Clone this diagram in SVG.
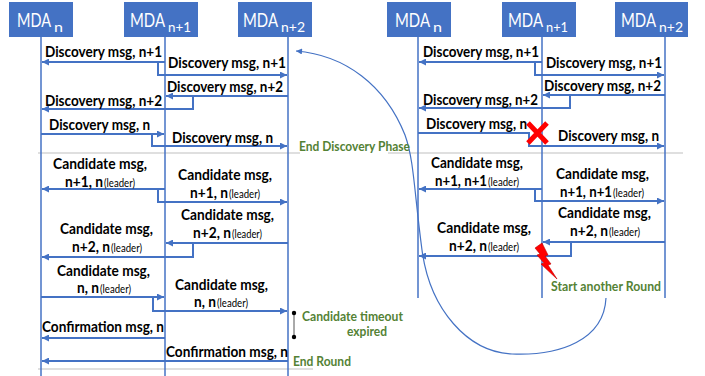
<svg xmlns="http://www.w3.org/2000/svg" width="705" height="376" viewBox="0 0 705 376">
<defs>
<style>
.box{fill:#4472C4}
.life{stroke:#4472C4;stroke-width:1.5;fill:none}
.msg{stroke:#4472C4;stroke-width:2;fill:none}
.sep{stroke:#BFBFBF;stroke-width:1;fill:none}
.mda{font-family:Lato,"Liberation Sans",sans-serif;font-size:19px;fill:#fff}
.sub{font-family:Lato,"Liberation Sans",sans-serif;font-size:12.5px;fill:#fff}
.lbl{font-family:Lato,"Liberation Sans",sans-serif;font-weight:700;font-size:14.5px;fill:#000}
.ld{font-family:Lato,"Liberation Sans",sans-serif;font-weight:400;font-size:10.5px;fill:#000}
.grn{font-family:Lato,"Liberation Sans",sans-serif;font-weight:700;font-size:13px;fill:#548235}
.curve{stroke:#4472C4;stroke-width:1.2;fill:none}
</style>
<marker id="ah" viewBox="0 0 10 10" refX="10" refY="5" markerWidth="8" markerHeight="7" markerUnits="userSpaceOnUse" orient="auto">
<path d="M0,0 L10,5 L0,10 z" fill="#4472C4"/>
</marker>
<marker id="ahs" viewBox="0 0 10 10" refX="10" refY="5" markerWidth="7" markerHeight="6" markerUnits="userSpaceOnUse" orient="auto">
<path d="M0,0 L10,5 L0,10 z" fill="#4472C4"/>
</marker>
</defs>
<rect width="705" height="376" fill="#fff"/>

<g id="separators">
<path class="sep" d="M38,153 H300 M388,153 H683"/>
<path class="sep" d="M38,369 H313"/>
</g>

<!-- left diagram nodes -->
<g id="L_MDAn">
<rect class="box" x="9" y="2" width="64" height="35"/>
<line class="life" x1="41" y1="37" x2="41" y2="376"/>
<text class="mda" x="17" y="27" textLength="34" lengthAdjust="spacingAndGlyphs">MDA</text>
<text class="sub" x="54" y="32" textLength="9" lengthAdjust="spacingAndGlyphs">n</text>
</g>
<g id="L_MDAn1">
<rect class="box" x="124" y="2" width="74" height="35"/>
<line class="life" x1="165" y1="37" x2="165" y2="376"/>
<text class="mda" x="130" y="27" textLength="35" lengthAdjust="spacingAndGlyphs">MDA</text>
<text class="sub" x="168" y="32" textLength="23" lengthAdjust="spacingAndGlyphs">n+1</text>
</g>
<g id="L_MDAn2">
<rect class="box" x="238" y="2" width="74" height="35"/>
<line class="life" x1="288" y1="37" x2="288" y2="376"/>
<text class="mda" x="243" y="27" textLength="35" lengthAdjust="spacingAndGlyphs">MDA</text>
<text class="sub" x="281" y="32" textLength="24" lengthAdjust="spacingAndGlyphs">n+2</text>
</g>

<!-- right diagram nodes -->
<g id="R_MDAn">
<rect class="box" x="387" y="2" width="64" height="35"/>
<line class="life" x1="418" y1="37" x2="418" y2="298"/>
<text class="mda" x="395" y="27" textLength="35" lengthAdjust="spacingAndGlyphs">MDA</text>
<text class="sub" x="433" y="32" textLength="9" lengthAdjust="spacingAndGlyphs">n</text>
</g>
<g id="R_MDAn1">
<rect class="box" x="502" y="2" width="74" height="35"/>
<line class="life" x1="542" y1="37" x2="542" y2="298"/>
<text class="mda" x="508" y="27" textLength="35" lengthAdjust="spacingAndGlyphs">MDA</text>
<text class="sub" x="546" y="32" textLength="22" lengthAdjust="spacingAndGlyphs">n+1</text>
</g>
<g id="R_MDAn2">
<rect class="box" x="615" y="2" width="73" height="35"/>
<line class="life" x1="665" y1="37" x2="665" y2="298"/>
<text class="mda" x="621" y="27" textLength="35" lengthAdjust="spacingAndGlyphs">MDA</text>
<text class="sub" x="659" y="32" textLength="24" lengthAdjust="spacingAndGlyphs">n+2</text>
</g>

<!-- connectors -->
<g id="connectors">
<path class="msg" marker-end="url(#ah)" d="M165,62 H42"/>
<path class="msg" marker-end="url(#ah)" d="M158,62 V75 H287"/>
<path class="msg" marker-end="url(#ah)" d="M288,96 H166"/>
<path class="msg" marker-end="url(#ah)" d="M193,96 V109 H42"/>
<path class="msg" marker-end="url(#ah)" d="M41,134 H164"/>
<path class="msg" marker-end="url(#ah)" d="M152,134 V146 H287"/>
<path class="msg" marker-end="url(#ah)" d="M165,189 H42"/>
<path class="msg" marker-end="url(#ah)" d="M158,189 V202 H287"/>
<path class="msg" marker-end="url(#ah)" d="M288,243 H166"/>
<path class="msg" marker-end="url(#ah)" d="M193,243 V257 H42"/>
<path class="msg" marker-end="url(#ah)" d="M41,297 H164"/>
<path class="msg" marker-end="url(#ah)" d="M153,297 V311 H287"/>
<path class="msg" marker-end="url(#ah)" d="M165,338 H42"/>
<path class="msg" marker-end="url(#ah)" d="M288,361 H42"/>

<path class="msg" marker-end="url(#ah)" d="M542,62 H419"/>
<path class="msg" marker-end="url(#ah)" d="M535,62 V75 H664"/>
<path class="msg" marker-end="url(#ah)" d="M665,95 H543"/>
<path class="msg" marker-end="url(#ah)" d="M570,95 V108 H419"/>
<path class="msg" marker-end="url(#ah)" d="M418,133 H529 V146 H664"/>
<path class="msg" marker-end="url(#ah)" d="M542,189 H419"/>
<path class="msg" marker-end="url(#ah)" d="M535,189 V201 H664"/>
<path class="msg" marker-end="url(#ah)" d="M665,242 H543"/>
<path class="msg" marker-end="url(#ah)" d="M571,242 V256 H419"/>

<path class="curve" marker-end="url(#ahs)" d="M606,298 C604,340 560,356 512,354 C468,352 430,310 422,250 C414,190 414,160 405,135 C385,85 345,55 296,51"/>
</g>

<!-- message labels -->
<g id="labels">
<text class="lbl" x="103.5" y="57" text-anchor="middle" textLength="117" lengthAdjust="spacingAndGlyphs">Discovery msg, n+1</text>
<text class="lbl" x="227" y="68" text-anchor="middle" textLength="118" lengthAdjust="spacingAndGlyphs">Discovery msg, n+1</text>
<text class="lbl" x="225" y="92" text-anchor="middle" textLength="116" lengthAdjust="spacingAndGlyphs">Discovery msg, n+2</text>
<text class="lbl" x="103.5" y="106" text-anchor="middle" textLength="117" lengthAdjust="spacingAndGlyphs">Discovery msg, n+2</text>
<text class="lbl" x="99.5" y="130" text-anchor="middle" textLength="101" lengthAdjust="spacingAndGlyphs">Discovery msg, n</text>
<text class="lbl" x="222.5" y="143" text-anchor="middle" textLength="101" lengthAdjust="spacingAndGlyphs">Discovery msg, n</text>

<text class="lbl" x="100" y="169" text-anchor="middle" textLength="94" lengthAdjust="spacingAndGlyphs">Candidate msg,</text>
<text class="lbl" x="65" y="187" textLength="38" lengthAdjust="spacingAndGlyphs">n+1, n</text>
<text class="ld" x="104" y="187" textLength="31" lengthAdjust="spacingAndGlyphs">(leader)</text>
<text class="lbl" x="225" y="180" text-anchor="middle" textLength="94" lengthAdjust="spacingAndGlyphs">Candidate msg,</text>
<text class="lbl" x="190" y="198" textLength="38" lengthAdjust="spacingAndGlyphs">n+1, n</text>
<text class="ld" x="229" y="198" textLength="31" lengthAdjust="spacingAndGlyphs">(leader)</text>
<text class="lbl" x="227.5" y="220" text-anchor="middle" textLength="93" lengthAdjust="spacingAndGlyphs">Candidate msg,</text>
<text class="lbl" x="193" y="238" textLength="38" lengthAdjust="spacingAndGlyphs">n+2, n</text>
<text class="ld" x="232" y="238" textLength="30" lengthAdjust="spacingAndGlyphs">(leader)</text>
<text class="lbl" x="106.5" y="234" text-anchor="middle" textLength="93" lengthAdjust="spacingAndGlyphs">Candidate msg,</text>
<text class="lbl" x="72" y="252" textLength="38" lengthAdjust="spacingAndGlyphs">n+2, n</text>
<text class="ld" x="111" y="252" textLength="31" lengthAdjust="spacingAndGlyphs">(leader)</text>
<text class="lbl" x="103.5" y="276" text-anchor="middle" textLength="93" lengthAdjust="spacingAndGlyphs">Candidate msg,</text>
<text class="lbl" x="77" y="293" textLength="22" lengthAdjust="spacingAndGlyphs">n, n</text>
<text class="ld" x="100" y="293" textLength="31" lengthAdjust="spacingAndGlyphs">(leader)</text>
<text class="lbl" x="221.5" y="290" text-anchor="middle" textLength="93" lengthAdjust="spacingAndGlyphs">Candidate msg,</text>
<text class="lbl" x="194" y="307" textLength="22" lengthAdjust="spacingAndGlyphs">n, n</text>
<text class="ld" x="217" y="307" textLength="31" lengthAdjust="spacingAndGlyphs">(leader)</text>
<text class="lbl" x="103" y="332" text-anchor="middle" textLength="122" lengthAdjust="spacingAndGlyphs">Confirmation msg, n</text>
<text class="lbl" x="227" y="357" text-anchor="middle" textLength="122" lengthAdjust="spacingAndGlyphs">Confirmation msg, n</text>

<text class="lbl" x="481" y="57" text-anchor="middle" textLength="116" lengthAdjust="spacingAndGlyphs">Discovery msg, n+1</text>
<text class="lbl" x="604" y="68" text-anchor="middle" textLength="116" lengthAdjust="spacingAndGlyphs">Discovery msg, n+1</text>
<text class="lbl" x="602.5" y="91" text-anchor="middle" textLength="117" lengthAdjust="spacingAndGlyphs">Discovery msg, n+2</text>
<text class="lbl" x="480.5" y="105" text-anchor="middle" textLength="115" lengthAdjust="spacingAndGlyphs">Discovery msg, n+2</text>
<text class="lbl" x="476.5" y="129" text-anchor="middle" textLength="101" lengthAdjust="spacingAndGlyphs">Discovery msg, n</text>
<text class="lbl" x="608.5" y="141" text-anchor="middle" textLength="101" lengthAdjust="spacingAndGlyphs">Discovery msg, n</text>

<text class="lbl" x="477" y="168" text-anchor="middle" textLength="92" lengthAdjust="spacingAndGlyphs">Candidate msg,</text>
<text class="lbl" x="435" y="186" textLength="52" lengthAdjust="spacingAndGlyphs">n+1, n+1</text>
<text class="ld" x="488" y="186" textLength="31" lengthAdjust="spacingAndGlyphs">(leader)</text>
<text class="lbl" x="602.5" y="179" text-anchor="middle" textLength="93" lengthAdjust="spacingAndGlyphs">Candidate msg,</text>
<text class="lbl" x="560" y="197" textLength="52" lengthAdjust="spacingAndGlyphs">n+1, n+1</text>
<text class="ld" x="613" y="197" textLength="31" lengthAdjust="spacingAndGlyphs">(leader)</text>
<text class="lbl" x="604.5" y="218" text-anchor="middle" textLength="93" lengthAdjust="spacingAndGlyphs">Candidate msg,</text>
<text class="lbl" x="570" y="236" textLength="38" lengthAdjust="spacingAndGlyphs">n+2, n</text>
<text class="ld" x="609" y="236" textLength="31" lengthAdjust="spacingAndGlyphs">(leader)</text>
<text class="lbl" x="484" y="233" text-anchor="middle" textLength="94" lengthAdjust="spacingAndGlyphs">Candidate msg,</text>
<text class="lbl" x="449" y="251" textLength="38" lengthAdjust="spacingAndGlyphs">n+2, n</text>
<text class="ld" x="488" y="251" textLength="31" lengthAdjust="spacingAndGlyphs">(leader)</text>
</g>

<g id="annotations">
<text class="grn" x="299" y="151" textLength="111" lengthAdjust="spacingAndGlyphs">End Discovery Phase</text>
<line x1="294" y1="313" x2="294" y2="337" stroke="#555" stroke-width="1"/>
<circle cx="294" cy="313" r="2.2" fill="#000"/>
<circle cx="294" cy="337" r="2.2" fill="#000"/>
<text class="grn" x="302" y="321" textLength="101" lengthAdjust="spacingAndGlyphs">Candidate timeout</text>
<text class="grn" x="347" y="336" textLength="40" lengthAdjust="spacingAndGlyphs">expired</text>
<text class="grn" x="293" y="366" textLength="58" lengthAdjust="spacingAndGlyphs">End Round</text>
<text class="grn" x="551" y="291" textLength="110" lengthAdjust="spacingAndGlyphs">Start another Round</text>
<g id="cross">
<path d="M528,123 L547,143 M547,123 L528,143" stroke="#FF0000" stroke-width="5" fill="none"/>
</g>
<g id="bolt">
<polygon points="535,248 542,243 548,255 545,256 551,264 548,265 557,279 541,264 544,263 537,255 540,254" fill="#FF0000" stroke="#C00000" stroke-width="0.6"/>
</g>
</g>
</svg>
